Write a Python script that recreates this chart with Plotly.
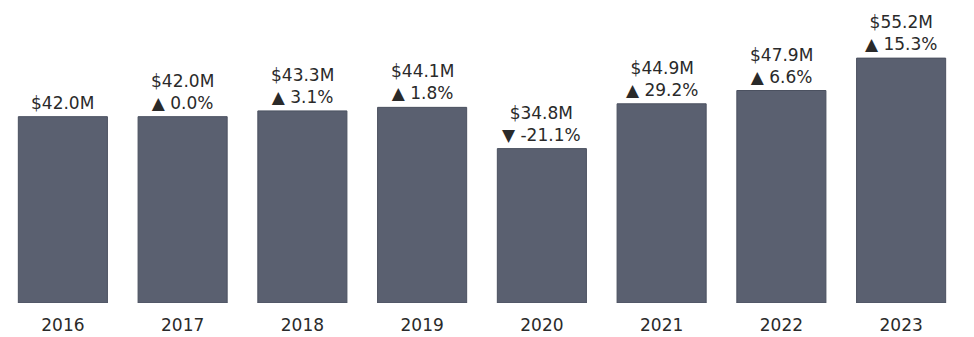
import plotly.graph_objects as go

# Annual totals (millions of dollars) and year-over-year change labels
years = ["2016", "2017", "2018", "2019", "2020", "2021", "2022", "2023"]
sales_m = [42.0, 42.0, 43.3, 44.1, 34.8, 44.9, 47.9, 55.2]
yoy_pct = [None, 0.0, 3.1, 1.8, -21.1, 29.2, 6.6, 15.3]

BAR_COLOR = "#5a6070"
TEXT_COLOR = "#2a2a2a"
FONT = "DejaVu Sans, Verdana, sans-serif"
FONT_SIZE = 17

fig = go.Figure(
    go.Bar(
        x=years,
        y=sales_m,
        marker=dict(color=BAR_COLOR, line=dict(color="#4b5160", width=1)),
        hoverinfo="x+y",
    )
)

# Value and change labels stacked above each bar
# (category axis: annotations use the category's serial index)
for i, (v, p) in enumerate(zip(sales_m, yoy_pct)):
    txt = f"${v:.1f}M"
    if p is not None:
        arrow = "\u25B2" if p >= 0 else "\u25BC"
        txt += f"<br>{arrow} {p:.1f}%"
    fig.add_annotation(
        x=i, y=v, xref="x", yref="y",
        text=txt, showarrow=False,
        yanchor="bottom", yshift=2,
        font=dict(family=FONT, size=FONT_SIZE, color=TEXT_COLOR),
        align="center",
    )

fig.update_layout(
    width=974, height=337,
    margin=dict(l=3, r=13, t=0, b=34),
    paper_bgcolor="white", plot_bgcolor="white",
    bargap=0.256,
    showlegend=False,
    font=dict(family=FONT, size=FONT_SIZE, color=TEXT_COLOR),
    xaxis=dict(
        type="category",
        showgrid=False, showline=False, zeroline=False,
        ticks="outside", ticklen=7, tickcolor="rgba(0,0,0,0)",
        tickfont=dict(family=FONT, size=FONT_SIZE, color=TEXT_COLOR),
    ),
    yaxis=dict(
        range=[0, 68.3], visible=False, showgrid=False, zeroline=False,
    ),
)

fig.write_html("out.html")
